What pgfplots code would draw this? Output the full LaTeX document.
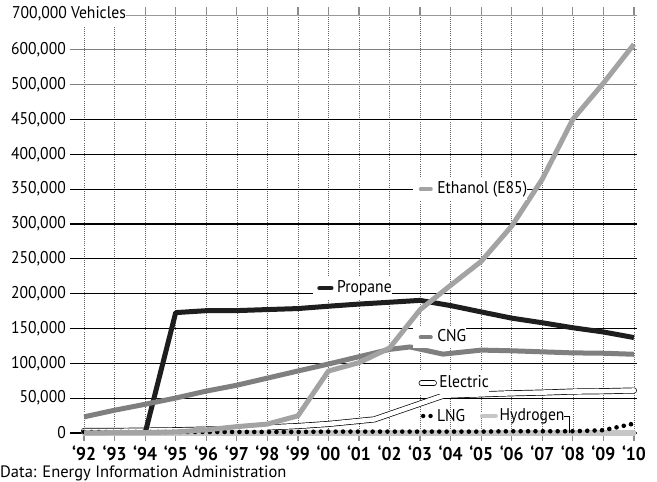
\documentclass[border=0pt]{standalone}
\usepackage{fontspec}
\setmainfont{PT Sans}
\newfontfamily\cond{PT Sans}[FakeStretch=0.92]
\newfontfamily\condb{PT Sans Bold}[FakeStretch=0.95]
\usepackage{pgfplots}
\pgfplotsset{compat=1.18}
\definecolor{cprop}{HTML}{1E1E1E}
\definecolor{ccng}{HTML}{7F7F7F}
\definecolor{ceth}{HTML}{A3A3A3}
\definecolor{chyd}{HTML}{C6C6C6}
\newcommand\lab{\cond\fontsize{17bp}{20bp}\selectfont}
\begin{document}
\begin{tikzpicture}
\begin{axis}[
  scale only axis, width=567bp, height=418bp,
  xmin=1991.54, xmax=2010.1, ymin=0, ymax=600000,
  clip=false,
  scaled y ticks=false, scaled x ticks=false,
  axis line style={draw=none},
  y filter/.expression={min(y,500000)+max(y-500000,0)/2},
  xtick={1992,1993,1994,1995,1996,1997,1998,1999,2000,2001,2002,2003,2004,2005,2006,2007,2008,2009,2010},
  xticklabels={‘92,‘93,‘94,‘95,‘96,‘97,‘98,‘99,‘00,‘01,‘02,‘03,‘04,‘05,‘06,‘07,‘08,‘09,‘10},
  ytick={0,50000,100000,150000,200000,250000,300000,350000,400000,450000},
  yticklabels={0,{50,000},{100,000},{150,000},{200,000},{250,000},{300,000},{350,000},{400,000},{450,000}},
  extra y ticks={500000,550000},
  extra y tick labels={{500,000},{600,000}},
  extra y tick style={y grid style={draw=black!50, line width=1.3bp}, ytick style={draw=none}},
  tick align=outside, major tick length=8bp,
  xtick style={draw=black!45, line width=1.3bp},
  ytick style={draw=none},
  xmajorgrids, ymajorgrids,
  x grid style={black!60, line width=0.6bp, dash pattern=on 0.6bp off 1.5bp},
  y grid style={black, line width=1.1bp},
  yticklabel style={font=\lab, anchor=east, inner sep=0pt, xshift=4bp},
  xticklabel style={font=\condb\fontsize{18.5bp}{20bp}\selectfont, anchor=north, inner sep=0pt, yshift=-5bp},
]
% 700,000 gridline (lighter)
\draw[black!40, line width=1bp] (axis cs:1991.54,600000) -- (axis cs:2010.1,600000);
% Electric (white line with black outline)
\addplot[draw=black, line width=0.7bp, double=white, double distance=4.6bp, line cap=round, line join=round] table {
1992 3000
1993 3000
1994 3500
1995 4000
1996 5000
1997 6000
1998 8000
1999 10000
2000 13000
2001.5 19500
2003.75 53500
2005 55500
2006 57000
2007 58000
2008 59500
2009 60000
2010 61000
};
% Propane
\addplot[draw=cprop, line width=5bp, line join=round] table {
1992 0
1993 0
1994 0
1995 172806
1996 175585
1997 175679
1998 177183
1999 178610
2000 181994
2001 185053
2002 187680
2003 190369
2004 182864
2005 173795
2006 164846
2007 158254
2008 151049
2009 145000
2010 137000
};
% Hydrogen
\addplot[draw=chyd, line width=5bp, line cap=round] table {
1992 0
1994 0
1996 0
1998 0
2000 0
2002 0
2004 0
2006 0
2008 0
2010 0
};
% LNG
\addplot[draw=black, line width=4.6bp, dash pattern=on 0bp off 7.4bp, line cap=round] table {
1992 1500
1995 1500
1999 1500
2000 2000
2005 2000
2006 2500
2008 2500
2009 4000
2010 13500
};
% CNG
\addplot[draw=ccng, line width=5bp, line join=round] table {
1992 23191
1993 32714
1994 41227
1995 50218
1996 60144
1997 68571
1998 78782
1999 89000
2000 99000
2001 109500
2002 120000
2002.67 123500
2003.75 113200
2005 119000
2006 118000
2007 116500
2008 115000
2009 114500
2010 113000
};
% Ethanol (E85)
\addplot[draw=ceth, line width=5bp, line join=round] table {
1992 172
1993 441
1994 605
1995 1527
1996 4536
1997 9130
1998 12788
1999 24604
2000 89000
2001 101000
2002 122000
2003 177000
2004 212000
2005 246363
2006 297099
2007 364384
2008 450327
2009 504297
2010 616000
};
% inline labels
\node[fill=white, anchor=west, inner xsep=0pt, inner ysep=1bp, font=\lab] at (axis cs:2002.77,350000) {\strut\hspace{24bp}Ethanol (E85)\hspace{3bp}};
\draw[ceth, line width=4bp, line cap=round] (axis cs:2003.02,350000) -- (axis cs:2003.35,350000);
\node[fill=white, anchor=west, inner xsep=0pt, inner ysep=1bp, font=\lab] at (axis cs:1999.49,207700) {\strut\hspace{24bp}Propane\hspace{5bp}};
\draw[cprop, line width=4bp, line cap=round] (axis cs:1999.7,207700) -- (axis cs:2000.1,207700);
\node[fill=white, anchor=west, inner xsep=0pt, inner ysep=1bp, font=\lab] at (axis cs:2002.77,137500) {\strut\hspace{24bp}CNG\hspace{5bp}};
\draw[ccng, line width=4bp, line cap=round] (axis cs:2003.02,137500) -- (axis cs:2003.35,137500);
\node[fill=white, anchor=west, inner xsep=0pt, inner ysep=1bp, font=\lab] at (axis cs:2002.77,71600) {\strut\hspace{26bp}Electric\hspace{2bp}};
\draw[black, line width=0.7bp, double=white, double distance=4.6bp, line cap=round] (axis cs:2003.05,71600) -- (axis cs:2003.45,71600);
\node[anchor=west, inner xsep=0pt, inner ysep=1bp, font=\lab] at (axis cs:2003.55,24400) {LNG};
\draw[black, line width=4.4bp, dash pattern=on 0bp off 7.4bp, line cap=round] (axis cs:2003.1,24400) -- (axis cs:2003.4,24400);
\draw[chyd, line width=4bp, line cap=round] (axis cs:2005.02,24400) -- (axis cs:2005.48,24400);
\node[anchor=west, inner xsep=0pt, inner ysep=1bp, font=\lab] at (axis cs:2005.6,24400) {Hydrogen};
\draw[black, line width=0.7bp] (axis cs:2007.7,24400) -- (axis cs:2007.9,24400) -- (axis cs:2007.9,0);
\end{axis}
\node[fill=white, anchor=west, inner xsep=0pt, inner ysep=1bp] at (-58bp,418bp) {\cond\fontsize{17bp}{20bp}\selectfont\strut 700,000 Vehicles\hspace{12bp}};
\node[anchor=base west, inner sep=0pt] at (-70bp,-44bp) {\fontsize{16.5bp}{19bp}\selectfont Data: Energy Information Administration};
\pgfresetboundingbox
\path (-70bp,-49bp) rectangle (587bp,433bp);
\end{tikzpicture}
\end{document}
